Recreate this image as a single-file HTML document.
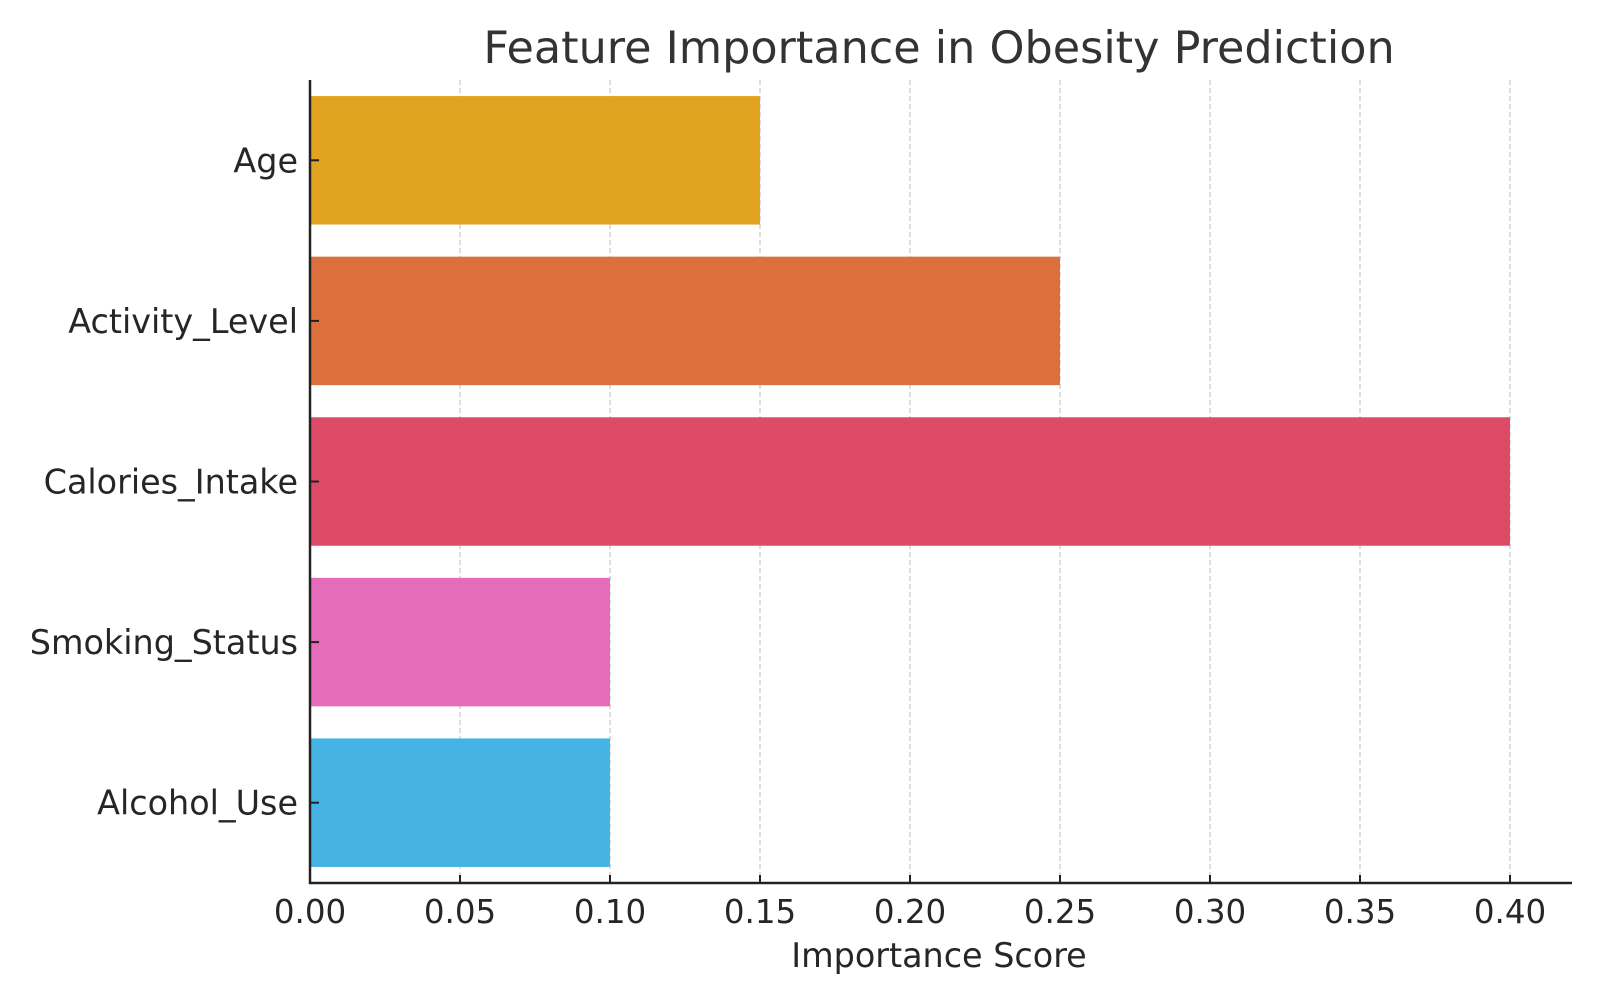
<!DOCTYPE html>
<html><head><meta charset="utf-8"><style>
body{margin:0;background:#fff;width:1600px;height:1000px;overflow:hidden}
text{font-family:"DejaVu Sans","Liberation Sans",sans-serif;fill:#262626}
</style></head><body>
<svg id="chart" width="1600" height="1000" xmlns="http://www.w3.org/2000/svg">
<text x="939" y="63" font-size="44.5" text-anchor="middle" style="fill:#333">Feature Importance in Obesity Prediction</text>
<g id="grid"></g><g id="bars"></g><g id="axes"></g>
<text x="939" y="967" font-size="33.4" text-anchor="middle">Importance Score</text>
</svg>
<script>
const categories=["Age","Activity_Level","Calories_Intake","Smoking_Status","Alcohol_Use"];
const values=[0.15,0.25,0.40,0.10,0.10];
const colors=["#E0A420","#DB703C","#DD4B67","#E46CB9","#45B3E3"];
const ticks=[0,0.05,0.10,0.15,0.20,0.25,0.30,0.35,0.40];
const ticklabels=["0.00","0.05","0.10","0.15","0.20","0.25","0.30","0.35","0.40"];
const NS="http://www.w3.org/2000/svg";
const X0=310,X1=1572,Y0=80,Y1=883;
const x=v=>X0+v*3000;
const band=(Y1-Y0)/categories.length;
const yc=i=>Y0+band*(i+0.5);
const bh=band*0.8;
function mk(t,a,p){const e=document.createElementNS(NS,t);for(const k in a)e.setAttribute(k,a[k]);p.appendChild(e);return e;}
const g=document.getElementById('grid'),b=document.getElementById('bars'),ax=document.getElementById('axes');
ticks.forEach((t,i)=>{
 const l=mk('line',{x1:x(t),x2:x(t),y1:Y0,y2:Y1,stroke:'#ccc','stroke-width':1.3,'stroke-dasharray':'5,3'},g);
 
 
 const tk=mk('line',{x1:x(t),x2:x(t),y1:Y1,y2:Y1-8,stroke:'#222','stroke-width':2},ax);
 
 
 const tx=mk('text',{x:x(t),y:Y1+40,'font-size':32.5,'text-anchor':'middle'},ax);
 tx.textContent=ticklabels[i];
 
 
});
categories.forEach((c,i)=>{
 const r=mk('rect',{x:X0,y:yc(i)-bh/2,width:x(values[i])-X0,height:bh,fill:colors[i]},b);
 
 
 const tk=mk('line',{x1:X0,x2:X0+9,y1:yc(i),y2:yc(i),stroke:'#222','stroke-width':2},ax);
 
 
 const tx=mk('text',{x:X0-12,y:yc(i)+12,'font-size':33.4,'text-anchor':'end'},ax);
 tx.textContent=c;
 
 
});
const la=mk('line',{x1:X0,x2:X0,y1:Y0,y2:Y1+1,stroke:'#222','stroke-width':2.5},ax);


const lb=mk('line',{x1:X0-1,x2:X1,y1:Y1,y2:Y1,stroke:'#222','stroke-width':2.5},ax);


</script>
</body></html>
